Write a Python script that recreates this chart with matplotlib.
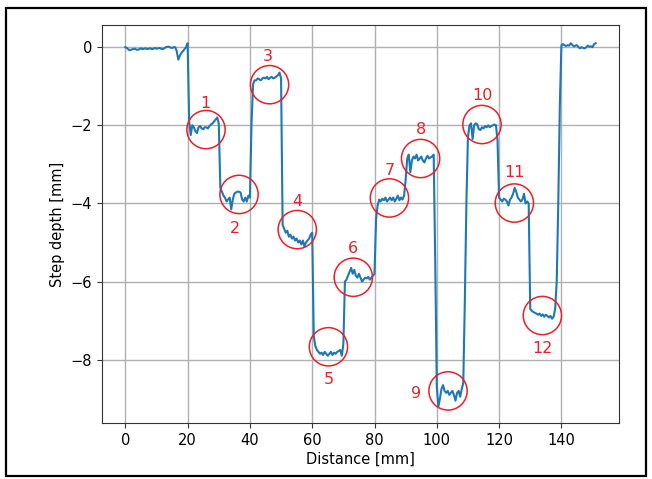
import matplotlib
matplotlib.use("Agg")
import matplotlib.pyplot as plt
import numpy as np
from matplotlib.patches import Rectangle

# Profile data: distance sampled every 0.5 mm, step depth in mm
distance = np.arange(0, 151.5, 0.5)
depth = [
    0.00, -0.02, -0.06, -0.08, -0.06, -0.05, -0.04, -0.06, -0.07, -0.05,   # 0-4.5
    -0.03, -0.05, -0.04, -0.03, -0.05, -0.04, -0.03, -0.05, -0.04, -0.02,  # 5-9.5
    -0.04, -0.03, -0.02, -0.04, -0.05, -0.03, 0.00, 0.01, 0.01, -0.01,     # 10-14.5
    -0.02, 0.00, 0.00, -0.10, -0.32, -0.22, -0.15, -0.10, -0.05, 0.00,     # 15-19.5
    0.10, -1.90, -2.25, -2.00, -2.05, -2.15, -2.20, -2.05, -2.02, -2.08,   # 20-24.5
    -2.10, -2.05, -2.05, -2.08, -2.02, -1.98, -1.95, -1.90, -1.85, -1.80,  # 25-29.5
    -1.95, -3.60, -3.70, -3.80, -3.85, -3.95, -3.90, -3.85, -4.15, -3.90,  # 30-34.5
    -3.75, -3.72, -3.70, -3.70, -3.72, -3.90, -3.95, -3.85, -3.95, -3.80,  # 35-39.5
    -3.85, -2.00, -0.95, -0.85, -0.85, -0.80, -0.82, -0.85, -0.80, -0.78,  # 40-44.5
    -0.80, -0.76, -0.82, -0.78, -0.76, -0.80, -0.78, -0.75, -0.72, -0.65,  # 45-49.5
    -0.80, -4.55, -4.65, -4.75, -4.70, -4.85, -4.80, -4.90, -4.85, -4.95,  # 50-54.5
    -4.90, -5.00, -4.95, -5.05, -4.95, -5.10, -5.00, -4.95, -4.90, -4.80,  # 55-59.5
    -4.75, -7.40, -7.65, -7.75, -7.80, -7.85, -7.82, -7.88, -7.80, -7.85,  # 60-64.5
    -7.90, -7.85, -7.80, -7.88, -7.82, -7.85, -7.80, -7.78, -7.75, -7.90,  # 65-69.5
    -7.60, -6.00, -5.95, -5.85, -5.75, -5.65, -5.80, -5.70, -5.85, -5.90,  # 70-74.5
    -5.80, -5.90, -6.00, -5.95, -5.90, -5.92, -5.88, -5.95, -5.90, -5.85,  # 75-79.5
    -5.80, -4.40, -4.05, -3.90, -3.95, -3.88, -3.92, -3.85, -3.95, -3.90,  # 80-84.5
    -3.85, -3.92, -3.85, -3.95, -3.88, -3.80, -3.92, -3.85, -3.90, -3.80,  # 85-89.5
    -3.40, -2.85, -2.75, -3.20, -2.90, -2.80, -2.85, -2.75, -2.90, -2.85,  # 90-94.5
    -2.80, -2.90, -2.95, -2.85, -2.78, -2.85, -2.82, -2.80, -2.75, -5.50,  # 95-99.5
    -8.70, -9.20, -9.00, -8.75, -8.65, -8.80, -8.85, -8.80, -8.90, -8.85,  # 100-104.5
    -8.80, -8.90, -9.05, -8.85, -8.80, -8.95, -8.75, -8.60, -6.50, -4.00,  # 105-109.5
    -2.30, -2.00, -1.95, -2.35, -2.00, -1.95, -1.98, -2.10, -2.12, -2.05,  # 110-114.5
    -2.08, -2.02, -2.05, -2.00, -2.05, -2.02, -2.00, -1.98, -2.00, -2.40,  # 115-119.5
    -3.85, -3.90, -3.95, -3.88, -3.90, -3.95, -4.05, -3.90, -3.85, -3.75,  # 120-124.5
    -3.60, -3.70, -3.85, -3.90, -3.95, -3.90, -3.75, -4.00, -3.95, -4.00,  # 125-129.5
    -6.70, -6.75, -6.78, -6.80, -6.82, -6.85, -6.82, -6.88, -6.84, -6.90,  # 130-134.5
    -6.85, -6.88, -6.92, -6.88, -6.95, -6.90, -6.70, -6.00, -4.00, -1.50,  # 135-139.5
    0.05, 0.08, 0.05, 0.03, 0.05, 0.04, 0.10, 0.06, 0.02, 0.04,            # 140-144.5
    0.05, 0.00, -0.03, 0.00, -0.02, -0.03, 0.00, 0.04, 0.01, 0.02,         # 145-149.5
    0.00, 0.08, 0.10,                                                      # 150-151
]

# Annotated measurement spots
spot_labels = ["1", "2", "3", "4", "5", "6", "7", "8", "9", "10", "11", "12"]
spot_x = [25.9, 36.5, 46.3, 55.2, 65.2, 73.2, 84.8, 94.8, 103.6, 114.5, 124.9, 133.9]
spot_y = [-2.11, -3.77, -0.96, -4.67, -7.67, -5.89, -3.86, -2.85, -8.80, -1.98, -3.99, -6.87]
label_x = [25.6, 35.2, 45.6, 55.2, 65.2, 73.2, 84.8, 94.8, 93.5, 114.5, 124.9, 133.9]
label_y = [-1.45, -4.63, -0.24, -3.94, -8.50, -5.16, -3.15, -2.11, -8.87, -1.24, -3.20, -7.72]

fig = plt.figure(figsize=(6.52, 4.79), dpi=100)
ax = fig.add_axes([0.1564, 0.117, 0.7930, 0.831])

ax.plot(distance, depth, color="#1f77b4", linewidth=1.5, zorder=3)
ax.scatter(spot_x, spot_y, s=760, facecolors="none", edgecolors="#e8202a",
           linewidths=1.1, zorder=4)
for t, lx, ly in zip(spot_labels, label_x, label_y):
    ax.text(lx, ly, t, color="#e8202a", fontsize=11.5, ha="center", va="center", zorder=5)

ax.set_xlim(-7.5, 158.5)
ax.set_ylim(-9.62, 0.57)
ax.set_xticks([0, 20, 40, 60, 80, 100, 120, 140])
ax.set_yticks([0, -2, -4, -6, -8])
ax.grid(True, color="#b0b0b0", linewidth=1.0)
ax.set_axisbelow(True)
ax.tick_params(labelsize=10.5, color="#333333")
for s in ax.spines.values():
    s.set_color("#333333")
ax.set_xlabel("Distance [mm]", fontsize=10.5, labelpad=3)
ax.set_ylabel("Step depth [mm]", fontsize=10.5)

# outer frame
fig.patches.append(Rectangle((6 / 652, 3 / 479), 640 / 652, 468 / 479,
                             transform=fig.transFigure, fill=False,
                             edgecolor="black", linewidth=1.6))

fig.savefig("out.png", dpi=100)
